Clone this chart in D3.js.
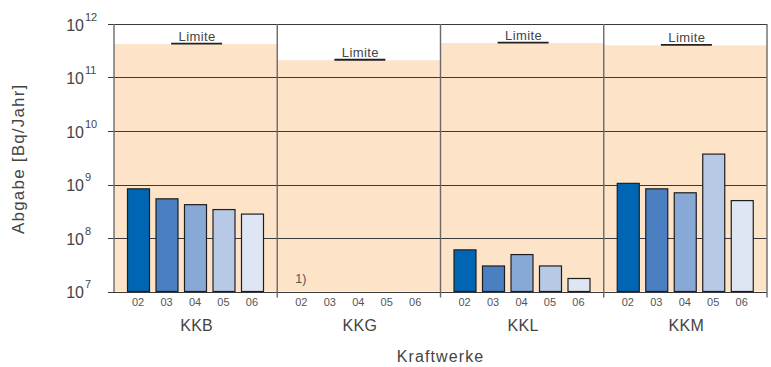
<!DOCTYPE html>
<html><head><meta charset="utf-8">
<script src="https://cdn.jsdelivr.net/npm/d3@7"></script>
<style>body{margin:0;background:#fff}svg{display:block}</style>
</head><body>
<svg id="c" width="771" height="367"></svg>
<script>
// ---- data ----
const plants = ["KKB", "KKG", "KKL", "KKM"];
const years = ["02", "03", "04", "05", "06"];
const limits = [4.2e11, 2.1e11, 4.4e11, 4.0e11];
const valuesKKB = [8.3e8, 5.4e8, 4.2e8, 3.4e8, 2.8e8];
const valuesKKG = [null, null, null, null, null];
const valuesKKL = [6.0e7, 3.0e7, 4.9e7, 3.0e7, 1.75e7];
const valuesKKM = [1.05e9, 8.3e8, 7.0e8, 3.7e9, 5.0e8];
const yTicks = [1e7, 1e8, 1e9, 1e10, 1e11, 1e12];
const yearColors = ["#0066b3", "#4a80c1", "#88a8d6", "#b8c9e6", "#dfe6f3"];
const seriesValues = [valuesKKB, valuesKKG, valuesKKL, valuesKKM];
const yTitle = "Abgabe [Bq/Jahr]";
const xTitle = "Kraftwerke";
const noteKKG = "1)";
const limitLabel = "Limite";

// ---- layout ----
const svg = d3.select("#c");
const pL = 114, pR = 767, pT = 24, pB = 291.5;
const font = "Liberation Sans, Arial, sans-serif";

const y = d3.scaleLog().domain([1e7, 1e12]).range([pB, pT]);
const xPlant = d3.scaleBand().domain(plants).range([pL, pR]).padding(0);
const pw = xPlant.bandwidth();
const xYear = d3.scaleBand().domain(years).range([13.5, 149.5]).paddingInner(0.228).paddingOuter(0);

// limit fills
plants.forEach((p, i) => {
  const x0 = xPlant(p);
  svg.append("rect").attr("x", x0).attr("y", y(limits[i]))
    .attr("width", pw).attr("height", pB - y(limits[i]))
    .attr("fill", "#fde3c7");
});

// horizontal gridlines
svg.append("g").selectAll("line").data(yTicks).join("line")
  .attr("x1", pL - 6).attr("x2", pR)
  .attr("y1", d => Math.round(y(d)) + 0.5).attr("y2", d => Math.round(y(d)) + 0.5)
  .attr("stroke", "#3a3a3a").attr("stroke-width", 1);

// vertical panel separators
const seps = plants.map(p => xPlant(p)).concat([pR]);
svg.append("g").selectAll("line").data(seps).join("line")
  .attr("x1", d => d).attr("x2", d => d)
  .attr("y1", pT).attr("y2", (d, i) => i === 0 ? pB + 0.5 : pB + 6)
  .attr("stroke", "#6a6a6a").attr("stroke-width", 1.4);

// bars
plants.forEach((p, i) => {
  const x0 = xPlant(p);
  const g = svg.append("g").attr("transform", `translate(${x0},0)`);
  const data = years.map((yr, j) => ({ yr, v: seriesValues[i][j], c: yearColors[j] })).filter(d => d.v != null);
  g.selectAll("rect").data(data).join("rect")
    .attr("x", d => xYear(d.yr)).attr("width", xYear.bandwidth())
    .attr("y", d => y(d.v)).attr("height", d => pB - y(d.v))
    .attr("fill", d => d.c).attr("stroke", "#1e1e1e").attr("stroke-width", 1.2);
  // year tick labels
  g.selectAll("text.yr").data(years).join("text").attr("class", "yr")
    .attr("x", d => xYear(d) + xYear.bandwidth() / 2 - 0.5).attr("y", 305.5)
    .attr("text-anchor", "middle").attr("font-family", font).attr("font-size", 11)
    .attr("fill", "#555").text(d => d);
  // plant label
  svg.append("text").attr("x", x0 + pw / 2 + 1).attr("y", 331)
    .attr("text-anchor", "middle").attr("font-family", font).attr("font-size", 16)
    .attr("letter-spacing", 0.3).attr("fill", "#444").text(p);
  // limit label
  const ly = y(limits[i]);
  svg.append("line").attr("x1", x0 + pw / 2 - 24.5).attr("x2", x0 + pw / 2 + 26.5)
    .attr("y1", ly - 0.5).attr("y2", ly - 0.5).attr("stroke", "#222").attr("stroke-width", 1.8);
  svg.append("text").attr("x", x0 + pw / 2 + 1.5).attr("y", ly - 3.5)
    .attr("text-anchor", "middle").attr("font-family", font).attr("font-size", 13)
    .attr("letter-spacing", 0.4).attr("fill", "#444").text(limitLabel);
});

// note in KKG
svg.append("text").attr("x", xPlant("KKG") + 18).attr("y", 283)
  .attr("font-family", font).attr("font-size", 12.5).attr("fill", "#555").text(noteKKG);

// y tick labels
const yl = svg.append("g").selectAll("g").data(yTicks).join("g")
  .attr("transform", d => `translate(0,${y(d)})`);
yl.append("text").attr("x", 84).attr("y", 6.5).attr("text-anchor", "end")
  .attr("font-family", font).attr("font-size", 16).attr("fill", "#444").text("10");
yl.append("text").attr("x", 85).attr("y", -3.5)
  .attr("font-family", font).attr("font-size", 11).attr("fill", "#444")
  .text(d => Math.round(Math.log10(d)));

// axis titles
svg.append("text").attr("transform", `translate(23.5,${(pT + pB) / 2 + 1}) rotate(-90)`)
  .attr("text-anchor", "middle").attr("font-family", font).attr("font-size", 17)
  .attr("letter-spacing", 1.2).attr("fill", "#444").text(yTitle);
svg.append("text").attr("x", (pL + pR) / 2).attr("y", 362)
  .attr("text-anchor", "middle").attr("font-family", font).attr("font-size", 16)
  .attr("letter-spacing", 1.1).attr("fill", "#444").text(xTitle);
</script>
</body></html>
